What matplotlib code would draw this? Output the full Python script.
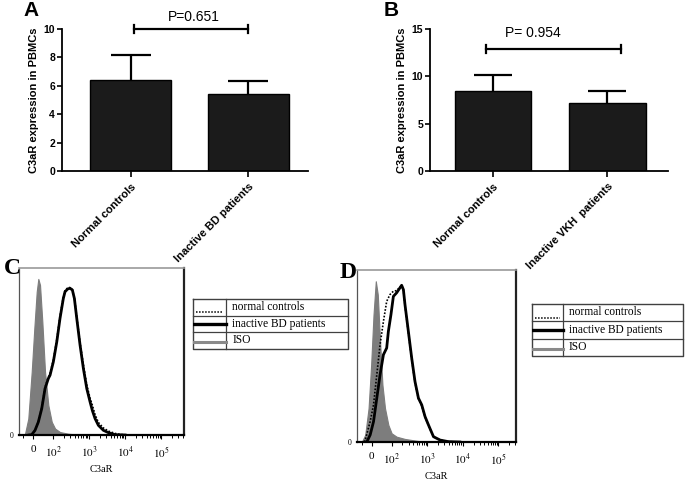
import numpy as np
import matplotlib
matplotlib.use("Agg")
import matplotlib.pyplot as plt

plt.rcParams['font.family'] = ['Liberation Sans', 'DejaVu Sans']
plt.rcParams['mathtext.fontset'] = 'stix'

# --- bar charts (A, B) ---
groups_a = ['Normal controls', 'Inactive BD patients']
mean_a = [6.4, 5.4]
sd_a = [1.8, 0.95]
p_text_a = 'P=0.651'
bracket_a = 10.0

groups_b = ['Normal controls', 'Inactive VKH  patients']
mean_b = [8.4, 7.15]
sd_b = [1.75, 1.3]
p_text_b = 'P= 0.954'
bracket_b = 12.9

# --- flow histograms (C, D), x = C3aR intensity, y = % of max ---
iso_c_x = [-48, -40, -23.5, -6.5, 6.5, 18.5, 26.5, 35, 46.5, 60, 76.5, 93.5, 114, 156, 266, 505, 1070]
iso_c_y = [0, 0.8, 10.5, 40.5, 68.3, 91.8, 100, 96.1, 72.6, 40.5, 19.1, 8.4, 4.1, 1.9, 0.8, 0.2, 0]
bd_c_x = [-20, -6.5, 10, 26.5, 43.5, 60, 76.5, 85, 102, 127, 156, 193, 215, 256, 297, 344, 391,
          455, 562, 695, 864, 1066, 1236, 1468, 1813, 2496, 3436, 5275, 10000]
bd_c_y = [0, 0.2, 3.0, 8.3, 16.9, 29.7, 36.2, 38.3, 46.9, 59.7, 74.7, 87.5, 91.8, 93.6, 94.0, 92.9, 87.5,
          74.7, 57.6, 42.6, 29.7, 21.2, 15.6, 10.5, 6.2, 3.0, 1.5, 0.2, 0]
nc_c_x = [-20, -6.5, 10, 26.5, 43.5, 60, 76.5, 85, 102, 127, 156, 193, 215, 256, 290, 344, 391,
          455, 562, 695, 864, 1066, 1236, 1468, 1813, 2496, 3436, 5275, 7500, 12000]
nc_c_y = [0, 0.2, 3.0, 8.8, 17.5, 30.5, 37.0, 39.5, 48.0, 61.0, 76.0, 88.5, 92.5, 94.3, 94.5, 93.2, 88.0,
          75.5, 59.0, 45.0, 32.0, 23.5, 19.0, 13.0, 8.0, 4.5, 2.5, 1.0, 0.3, 0]

iso_d_x = [-55, -50, -33.5, -16.5, -3.5, 8.5, 20, 30, 41.5, 53.5, 66.5, 83.5, 100, 138, 237, 565, 1175]
iso_d_y = [0, 0.2, 4.4, 21.0, 48.0, 79.2, 100, 91.7, 62.6, 35.6, 21.0, 10.6, 5.4, 3.3, 1.9, 0.6, 0]
bd_d_x = [-35, -25, -8.5, 8.5, 25, 41.5, 58.5, 75, 83.5, 96.5, 112, 138, 171, 191, 214, 237, 295, 366,
          453, 565, 700, 867, 1082, 1496, 2296, 3956, 8225]
bd_d_y = [0, 0.2, 4.4, 12.7, 27.3, 41.8, 54.3, 58.5, 68.8, 79.2, 90.6, 92.8, 95.9, 97.5, 94.8, 85.5, 68.8, 52.2,
          37.6, 27.3, 23.1, 15.8, 10.6, 3.3, 1.2, 0.2, 0]
nc_d_x = [-40, -33.5, -8.5, 8.5, 25, 41.5, 58.5, 75, 91.5, 112, 138, 171, 191, 214, 237, 295, 366,
          453, 565, 700, 867, 1082, 1496, 2296, 3956, 8225]
nc_d_y = [0, 1.2, 12.7, 23.1, 41.8, 60.5, 75.0, 87.5, 91.7, 93.8, 94.2, 96.3, 97.5, 94.5, 85.0, 68.0, 51.5,
          37.0, 27.0, 22.5, 15.5, 10.3, 3.3, 1.2, 0.2, 0]

key_labels_c = ['normal controls', 'inactive BD patients', 'ISO']
key_labels_d = ['normal controls', 'inactive BD patients', 'ISO']

W, H = 685, 487


def box(x0, y0, x1, y1):
    # pixel box (top-left origin) -> figure fraction rect
    return [x0 / W, 1 - y1 / H, (x1 - x0) / W, (y1 - y0) / H]


def bar_panel(rect, groups, mean, sd, ylim, yticks, xlim, width, ptext, by, bx, ptx, pty, capsize):
    ax = fig.add_axes(rect)
    x = np.arange(len(groups))
    ax.bar(x, mean, width=width, color='#1b1b1b', edgecolor='black', linewidth=1, zorder=2)
    eb = ax.errorbar(x, mean, yerr=[np.zeros(len(sd)), sd], fmt='none', ecolor='black',
                     elinewidth=1.6, capsize=capsize, capthick=1.6, zorder=3)
    eb[1][0].set_visible(False)  # hide the lower cap, keep only the upper one
    ax.set_xlim(*xlim)
    ax.set_ylim(*ylim)
    ax.set_yticks(yticks)
    ax.set_xticks(x)
    ax.set_xticklabels(groups, rotation=45, ha='right', va='top', rotation_mode='anchor',
                       fontsize=8, fontweight='bold')
    for t in ax.get_yticklabels():
        t.set_fontsize(7.5)
        t.set_fontweight('bold')
    ax.spines['top'].set_visible(False)
    ax.spines['right'].set_visible(False)
    ax.spines['left'].set_linewidth(1.3)
    ax.spines['bottom'].set_linewidth(1.3)
    ax.tick_params(axis='y', direction='out', length=3.5, width=1.2, pad=1.5)
    ax.tick_params(axis='x', direction='out', length=4.5, width=1.2, pad=3)
    ax.set_ylabel('C3aR expression in PBMCs', fontsize=8, fontweight='bold', labelpad=3)
    # significance bracket
    cap = (ylim[1] - ylim[0]) * 0.026
    ax.plot([bx[0], bx[1]], [by, by], color='black', lw=1.6, clip_on=False)
    for xx in bx:
        ax.plot([xx, xx], [by - cap, by + cap], color='black', lw=1.6, clip_on=False)
    ax.text(ptx, pty, ptext, ha='center', va='center', fontsize=10, clip_on=False)
    return ax


def hist_panel(rect, iso, bd, nc, xlim):
    ax = fig.add_axes(rect)
    ax.set_xscale('symlog', linthresh=100, linscale=0.5)
    ax.fill_between(iso[0], iso[1], 0, color='#7d7d7d', lw=0.8, edgecolor='#7d7d7d', zorder=1)
    ax.plot(nc[0], nc[1], color='black', lw=1.2, ls=(0, (1, 1)), zorder=2)
    ax.plot(bd[0], bd[1], color='black', lw=2.0, zorder=3)
    ax.set_xlim(*xlim)
    ax.set_ylim(0, 107)
    ax.set_xticks([0, 1e2, 1e3, 1e4, 1e5])
    ax.set_xticklabels(['0', r'$10^2$', r'$10^3$', r'$10^4$', r'$10^5$'], fontsize=8,
                       family='Liberation Serif')
    minors = [-50]
    for d in [1e2, 1e3, 1e4, 1e5]:
        minors += [d * k for k in range(2, 10) if d * k < xlim[1]]
    ax.set_xticks(minors, minor=True)
    ax.tick_params(axis='x', which='major', direction='out', length=3, width=0.8, pad=4)
    ax.tick_params(axis='x', which='minor', direction='out', length=2, width=0.7)
    ax.set_yticks([0])
    ax.set_yticklabels(['0'], fontsize=5.5, family='Liberation Serif')
    ax.tick_params(axis='y', length=0, pad=4)
    ax.set_xlabel('C3aR', fontsize=7.5, family='Liberation Serif', labelpad=4)
    ax.spines['top'].set_color('#9a9a9a')
    ax.spines['top'].set_linewidth(1.2)
    ax.spines['left'].set_color('#555555')
    ax.spines['left'].set_linewidth(0.9)
    ax.spines['right'].set_color('#222222')
    ax.spines['right'].set_linewidth(1.6)
    ax.spines['bottom'].set_color('black')
    ax.spines['bottom'].set_linewidth(1.6)
    return ax


def key_table(rect, xdiv, labels):
    ax = fig.add_axes(rect)
    ax.set_xlim(0, 1)
    ax.set_ylim(3, 0)
    ax.axis('off')
    lc = '#404040'
    ax.plot([0, 1, 1, 0, 0], [0, 0, 3, 3, 0], color=lc, lw=1.0, clip_on=False)
    for r in [1, 2]:
        ax.plot([0, 1], [r, r], color=lc, lw=0.9, clip_on=False)
    ax.plot([xdiv, xdiv], [0, 3], color=lc, lw=0.9, clip_on=False)
    ax.plot([0.02, xdiv - 0.02], [0.8, 0.8], color='black', lw=1.1, ls=(0, (1, 1)))
    ax.plot([0, xdiv], [1.5, 1.5], color='black', lw=2.4)
    ax.plot([0, xdiv], [2.6, 2.6], color='#8a8a8a', lw=2.2)
    for i, lab in enumerate(labels):
        ax.text(xdiv + 0.04, i + 0.48, lab, ha='left', va='center', fontsize=8.3,
                family='Liberation Serif')
    return ax


fig = plt.figure(figsize=(W / 100, H / 100), dpi=100)

bar_panel(box(62, 29, 308, 171), groups_a, mean_a, sd_a, (0, 10), [0, 2, 4, 6, 8, 10],
          (-0.584, 1.508), 0.69, p_text_a, bracket_a, (0.03, 1.0), 0.54, 10.85, 14.5)
bar_panel(box(430, 29, 668, 171), groups_b, mean_b, sd_b, (0, 15), [0, 5, 10, 15],
          (-0.55, 1.53), 0.67, p_text_b, bracket_b, (-0.06, 1.12), 0.35, 14.6, 13.5)

hist_panel(box(19, 268, 184, 435), (iso_c_x, iso_c_y), (bd_c_x, bd_c_y), (nc_c_x, nc_c_y), (-70, 4.3e5))
hist_panel(box(357, 270, 516, 442), (iso_d_x, iso_d_y), (bd_d_x, bd_d_y), (nc_d_x, nc_d_y), (-75, 3.1e5))

key_table(box(193, 299, 348, 349), (226 - 193) / (348 - 193), key_labels_c)
key_table(box(532, 304, 683, 356), (563 - 532) / (683 - 532), key_labels_d)

fig.text(31 / W, 1 - 11 / H, 'A', fontsize=15, fontweight='bold', ha='center', va='center')
fig.text(391 / W, 1 - 10 / H, 'B', fontsize=15, fontweight='bold', ha='center', va='center')
fig.text(12 / W, 1 - 268 / H, 'C', fontsize=17, fontweight='bold', ha='center', va='center',
         family='Liberation Serif')
fig.text(348 / W, 1 - 272 / H, 'D', fontsize=17, fontweight='bold', ha='center', va='center',
         family='Liberation Serif')

fig.savefig('out.png', dpi=100)
